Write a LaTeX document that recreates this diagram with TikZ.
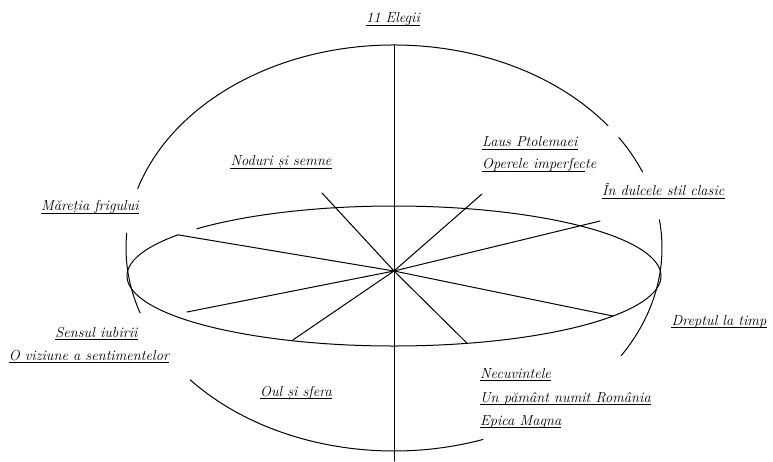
\documentclass[tikz,border=0pt]{standalone}
\usepackage{fontspec}
\begin{document}
\begin{tikzpicture}[x=1pt,y=1pt,
  line/.style={line width=1pt, line cap=round},
  uline/.style={line width=0.75pt},
  lbl/.style={font=\fontsize{14.5}{16}\selectfont\itshape\addfontfeature{FakeBold=0.8}, inner sep=0pt}]
\useasboundingbox (0,0) rectangle (773,461);
\coordinate (S) at (394,213);
\coordinate (E) at (394,185);
\coordinate (C) at (394,190);
% sphere outline pieces
\draw[line] ([shift={(37:268pt and 203pt)}]S) arc[start angle=37,end angle=163,x radius=268pt,y radius=203pt];
\draw[line] ([shift={(22:268pt and 203pt)}]S) arc[start angle=22,end angle=33,x radius=268pt,y radius=203pt];
\draw[line] ([shift={(-32:268pt and 203pt)}]S) arc[start angle=-32,end angle=8,x radius=268pt,y radius=203pt];
\draw[line] ([shift={(220.5:268pt and 203pt)}]S) arc[start angle=220.5,end angle=289.4,x radius=268pt,y radius=203pt];
\draw[line] ([shift={(175.8:268pt and 203pt)}]S) arc[start angle=175.8,end angle=198.7,x radius=268pt,y radius=203pt];
% equator
\draw[line] ([shift={(144:267pt and 70pt)}]E) arc[start angle=144,end angle=497.6,x radius=267pt,y radius=70pt];
% axis
\coordinate (vt) at ([shift={(90:268pt and 203pt)}]S);
\coordinate (vb) at (394,0);
\draw[line] (vt) -- (vb);
% spokes
\coordinate (p1) at (322,268);
\coordinate (p2) at (482,267);
\coordinate (p3) at (600,240);
\coordinate (p4) at ([shift={(144:267pt and 70pt)}]E);
\coordinate (p5) at (187,149);
\coordinate (p6) at ([shift={(247.5:267pt and 70pt)}]E);
\coordinate (p7) at ([shift={(285.9:267pt and 70pt)}]E);
\coordinate (p8) at ([shift={(325.1:267pt and 70pt)}]E);
\foreach \i in {1,...,8} \draw[line] (C) -- (p\i);
% labels
\node[lbl,anchor=base] (t) at (393,438) {11 Elegii};
\node[lbl,anchor=base] (n1) at (281,295) {Noduri și semne};
\node[lbl,anchor=base west] (n2) at (482,314) {Laus Ptolemaei};
\node[lbl,anchor=base west] (n3) at (482,292) {Operele imperfec};
\node[lbl,anchor=base west] (n3b) at (n3.base east) {te};
\node[lbl,anchor=base west] (n4) at (602,265) {În dulcele stil clasic};
\node[lbl,anchor=base] (n5) at (90,250) {Măreția frigului};
\node[lbl,anchor=base] (n6) at (96.5,124) {Sensul iubirii};
\node[lbl,anchor=base] (n7) at (89,101) {O viziune a sentimentelor};
\node[lbl,anchor=base] (n8) at (296,65) {Oul și sfera};
\node[lbl,anchor=base] (n9) at (719,136) {Dreptul la timp};
\node[lbl,anchor=base west] (n10) at (480,83) {Necuvintele};
\node[lbl,anchor=base west] (n11) at (480,59) {Un pământ numit România};
\node[lbl,anchor=base west] (n12) at (480,36) {Epica Magna};
\foreach \n in {t,n1,n2,n3,n4,n5,n6,n7,n8,n9,n10,n11,n12}
  \draw[uline] ([yshift=-2.4pt]\n.base west) -- ([yshift=-2.4pt]\n.base east);
\end{tikzpicture}
\end{document}
